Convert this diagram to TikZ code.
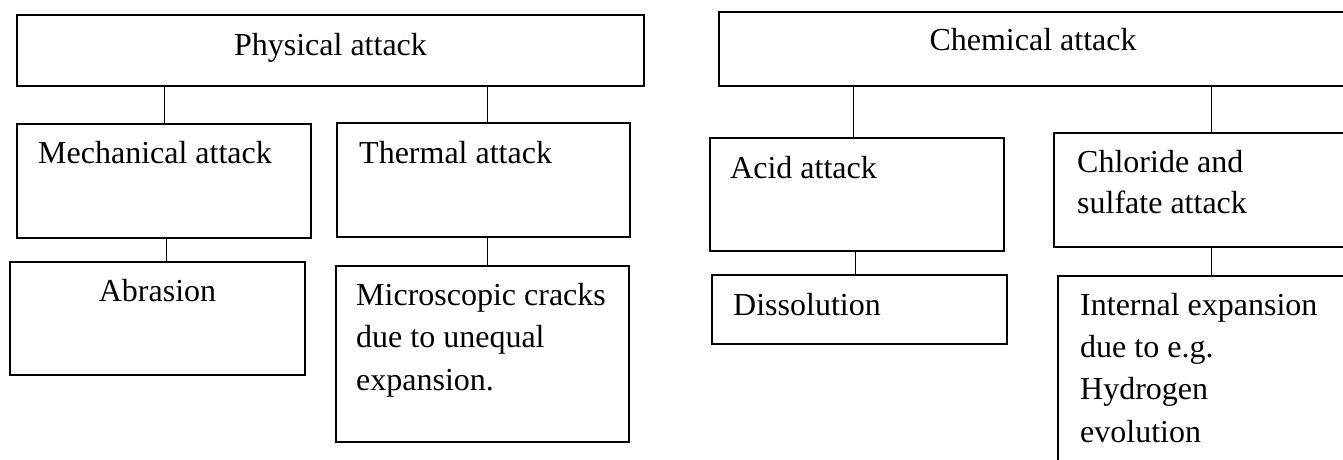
\documentclass[tikz,border=0pt]{standalone}
\usepackage{fontspec}
\setmainfont{Liberation Serif}
\usetikzlibrary{positioning}

\tikzset{
  card/.style={draw,line width=1.2pt,inner sep=0pt},
  txt/.style={inner sep=0pt,align=left,font=\fontsize{32}{42.5}\selectfont},
  link/.style={line width=0.9pt}
}

\begin{document}
\begin{tikzpicture}[x=1pt,y=-1pt]
\useasboundingbox (0,0) rectangle (1343,459);
\clip (0,0) rectangle (1343,459);
% physical side
\node[card,minimum width=627pt,minimum height=71pt] (phys) at (330.5,50.5){};
\node[card,minimum width=294pt,minimum height=114pt] (mech) at (164,181){};
\node[card,minimum width=293pt,minimum height=114pt] (therm) at (483.5,180){};
\node[card,minimum width=295pt,minimum height=113pt] (abr) at (157.5,318.5){};
\node[card,minimum width=293pt,minimum height=176pt] (micro) at (482.5,354){};
\node[txt,anchor=base] (phystxt) at (330.5,55){Physical attack};
\node[txt,anchor=base west] (mechtxt) at (38,163){Mechanical attack};
\node[txt,anchor=base west] (thermtxt) at (359,163){Thermal attack};
\node[txt,anchor=base] (abrtxt) at (157.5,301){Abrasion};
% base of a multi-line node = last line
\node[txt,anchor=base west] (microtxt) at (356,390){Microscopic cracks\\due to unequal\\expansion.};
% chemical side
\node[card,minimum width=628pt,minimum height=74pt] (chem) at (1033,49){};
\node[card,minimum width=294pt,minimum height=113pt] (acid) at (857,194.5){};
\node[card,minimum width=314pt,minimum height=114pt] (chlor) at (1211,190){};
\node[card,minimum width=295pt,minimum height=69pt] (diss) at (859.5,309.5){};
\node[card,minimum width=312pt,minimum height=208pt] (intern) at (1214,380){};
\node[txt,anchor=base] (chemtxt) at (1033,50){Chemical attack};
\node[txt,anchor=base west] (acidtxt) at (730,178){Acid attack};
\node[txt,anchor=base west,font=\fontsize{32}{41}\selectfont] (chlortxt) at (1077,213){Chloride and\\sulfate attack};
\node[txt,anchor=base west] (disstxt) at (733,315){Dissolution};
\node[txt,anchor=base west,font=\fontsize{32}{42.3}\selectfont] (interntxt) at (1080,442){Internal expansion\\due to e.g.\\Hydrogen\\evolution};
% connectors
\draw[link] (mech.north |- phys.south)--(mech.north);
\draw[link] ([xshift=3.5pt]therm.north |- phys.south)--([xshift=3.5pt]therm.north);
\draw[link] ([xshift=2pt]mech.south)--([xshift=2pt]mech.south |- abr.north);
\draw[link] ([xshift=3.5pt]therm.south)--([xshift=3.5pt]therm.south |- micro.north);
\draw[link] ([xshift=-4pt]acid.north |- chem.south)--([xshift=-4pt]acid.north);
\draw[link] (chlor.north |- chem.south)--(chlor.north);
\draw[link] ([xshift=-2pt]acid.south)--([xshift=-2pt]acid.south |- diss.north);
\draw[link] (chlor.south)--(chlor.south |- intern.north);
\end{tikzpicture}
\end{document}
